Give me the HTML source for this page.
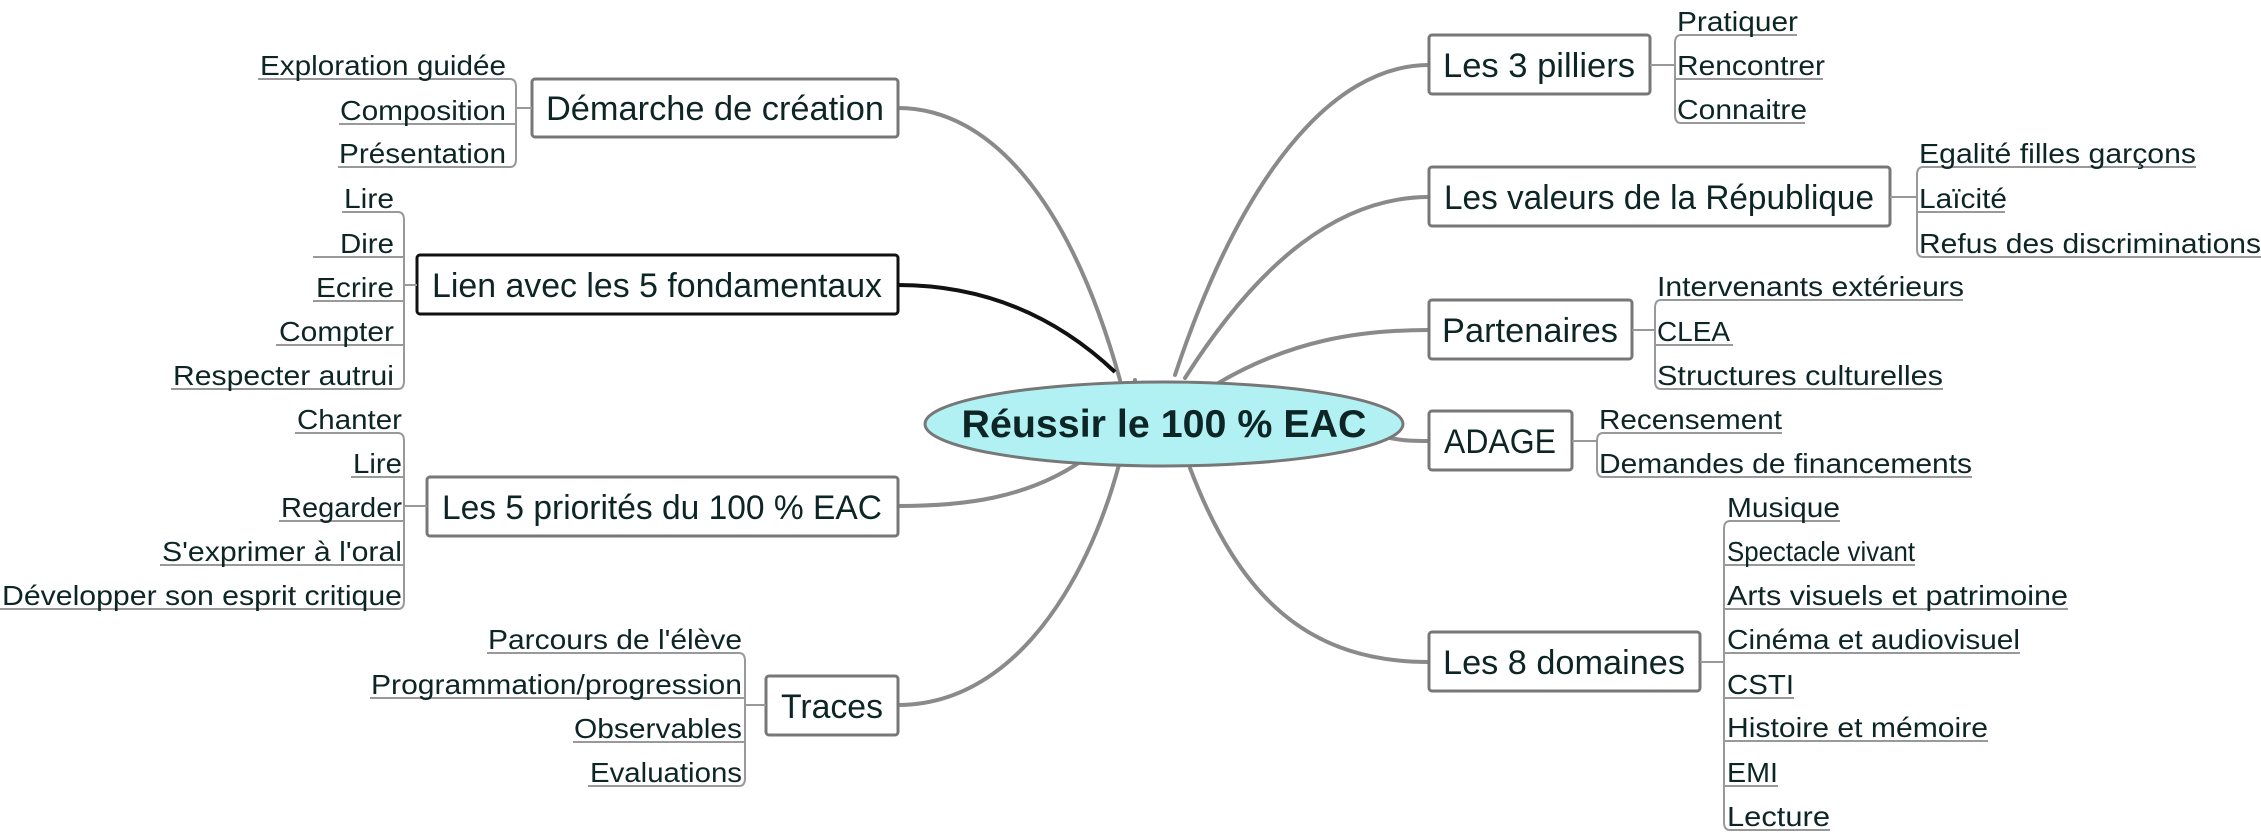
<!DOCTYPE html>
<html><head><meta charset="utf-8"><style>
html,body{margin:0;padding:0;background:#fff;}
svg{display:block}
text{font-family:"Liberation Sans",sans-serif;fill:#0d2525}
.b{font-size:34px}
.l{font-size:28px}
</style></head><body>
<svg width="2261" height="833" viewBox="0 0 2261 833" xmlns="http://www.w3.org/2000/svg">
<g fill="none" stroke="#8a8a8a" stroke-width="4" stroke-linecap="round">
<path d="M1120,380 C1070,200 990,108 898,108"/>
<path d="M1135,380 C1120,520 1040,705 898,705" />
<path d="M1090,455 C1030,500 960,506 898,506"/>
<path d="M1175,375 C1240,180 1330,65 1429,65"/>
<path d="M1185,378 C1260,260 1340,197 1429,197"/>
<path d="M1215,385 C1290,340 1360,330 1429,330"/>
<path d="M1390,438 C1405,441 1415,441 1429,441"/>
<path d="M1190,468 C1240,600 1310,662 1429,662"/>
</g>
<path d="M1115,372 C1060,320 990,285 898,285" fill="none" stroke="#111" stroke-width="4"/>
<ellipse cx="1164" cy="424" rx="239" ry="42" fill="#b1f1f4" stroke="#777" stroke-width="3"/>
<text x="1164" y="437" text-anchor="middle" font-size="39" font-weight="bold" textLength="405" lengthAdjust="spacingAndGlyphs">Réussir le 100 % EAC</text>
<g fill="#fff" stroke="#777" stroke-width="3">
<rect x="532" y="79" width="366" height="58" rx="3"/>
<rect x="417" y="255" width="481" height="59" rx="3" stroke="#111"/>
<rect x="427" y="477" width="471" height="59" rx="3"/>
<rect x="766" y="676" width="132" height="59" rx="3"/>
<rect x="1429" y="35" width="221" height="59" rx="3"/>
<rect x="1429" y="167" width="461" height="59" rx="3"/>
<rect x="1429" y="300" width="203" height="59" rx="3"/>
<rect x="1429" y="411" width="143" height="59" rx="3"/>
<rect x="1429" y="632" width="271" height="59" rx="3"/>
</g>
<g class="b">
<text x="715" y="120" text-anchor="middle" textLength="338" lengthAdjust="spacingAndGlyphs">Démarche de création</text>
<text x="657" y="297" text-anchor="middle" textLength="450" lengthAdjust="spacingAndGlyphs">Lien avec les 5 fondamentaux</text>
<text x="662" y="519" text-anchor="middle" textLength="440" lengthAdjust="spacingAndGlyphs">Les 5 priorités du 100 % EAC</text>
<text x="832" y="718" text-anchor="middle" textLength="102" lengthAdjust="spacingAndGlyphs">Traces</text>
<text x="1539" y="77" text-anchor="middle" textLength="192" lengthAdjust="spacingAndGlyphs">Les 3 pilliers</text>
<text x="1659" y="209" text-anchor="middle" textLength="430" lengthAdjust="spacingAndGlyphs">Les valeurs de la République</text>
<text x="1530" y="342" text-anchor="middle" textLength="176" lengthAdjust="spacingAndGlyphs">Partenaires</text>
<text x="1500" y="453" text-anchor="middle" textLength="112" lengthAdjust="spacingAndGlyphs">ADAGE</text>
<text x="1564" y="674" text-anchor="middle" textLength="242" lengthAdjust="spacingAndGlyphs">Les 8 domaines</text>
</g>
<g fill="none" stroke="#999" stroke-width="2">
<path d="M508,79 h2 q6,0 6,8 v72 q0,8 -6,8 h-2 M516,108 h16 M508,124 h8"/>
<path d="M396,212 h2 q6,0 6,8 v161 q0,8 -6,8 h-2 M404,285 h13 M396,257 h8 M396,301 h8 M396,345 h8"/>
<path d="M396,433 h2 q6,0 6,8 v160 q0,8 -6,8 h-2 M404,506 h23 M396,477 h8 M396,521 h8 M396,565 h8"/>
<path d="M737,653 h2 q6,0 6,8 v117 q0,8 -6,8 h-2 M745,705 h21 M737,698 h8 M737,742 h8"/>
<path d="M1683,35 h-2 q-6,0 -6,8 v72 q0,8 6,8 h2 M1675,65 h-25 M1683,79 h-8"/>
<path d="M1925,167 h-2 q-6,0 -6,8 v74 q0,8 6,8 h2 M1917,197 h-27 M1925,212 h-8"/>
<path d="M1663,300 h-2 q-6,0 -6,8 v73 q0,8 6,8 h2 M1655,330 h-23 M1663,345 h-8"/>
<path d="M1605,433 h-2 q-6,0 -6,8 v28 q0,8 6,8 h2 M1597,441 h-25"/>
<path d="M1732,521 h-2 q-6,0 -6,8 v293 q0,8 6,8 h2 M1724,662 h-24 M1732,565 h-8 M1732,609 h-8 M1732,653 h-8 M1732,698 h-8 M1732,741 h-8 M1732,786 h-8"/>
</g>
<g stroke="#999" stroke-width="2">
<line x1="258" y1="79" x2="508" y2="79"/><line x1="339" y1="124" x2="508" y2="124"/><line x1="338" y1="167" x2="508" y2="167"/>
<line x1="342" y1="212" x2="396" y2="212"/><line x1="313" y1="257" x2="396" y2="257"/><line x1="313" y1="301" x2="396" y2="301"/><line x1="276" y1="345" x2="396" y2="345"/><line x1="171" y1="389" x2="396" y2="389"/>
<line x1="295" y1="433" x2="396" y2="433"/><line x1="351" y1="477" x2="396" y2="477"/><line x1="279" y1="521" x2="396" y2="521"/><line x1="160" y1="565" x2="396" y2="565"/><line x1="0" y1="609" x2="396" y2="609"/>
<line x1="487" y1="653" x2="737" y2="653"/><line x1="370" y1="698" x2="737" y2="698"/><line x1="573" y1="742" x2="737" y2="742"/><line x1="588" y1="786" x2="737" y2="786"/>
<line x1="1683" y1="35" x2="1797" y2="35"/><line x1="1683" y1="79" x2="1823" y2="79"/><line x1="1683" y1="123" x2="1805" y2="123"/>
<line x1="1925" y1="167" x2="2196" y2="167"/><line x1="1925" y1="212" x2="2005" y2="212"/><line x1="1925" y1="257" x2="2261" y2="257"/>
<line x1="1663" y1="300" x2="1963" y2="300"/><line x1="1663" y1="345" x2="1733" y2="345"/><line x1="1663" y1="389" x2="1943" y2="389"/>
<line x1="1605" y1="433" x2="1782" y2="433"/><line x1="1605" y1="477" x2="1972" y2="477"/>
<line x1="1732" y1="521" x2="1840" y2="521"/><line x1="1732" y1="565" x2="1915" y2="565"/><line x1="1732" y1="609" x2="2068" y2="609"/><line x1="1732" y1="653" x2="2020" y2="653"/><line x1="1732" y1="698" x2="1794" y2="698"/><line x1="1732" y1="741" x2="1988" y2="741"/><line x1="1732" y1="786" x2="1778" y2="786"/><line x1="1732" y1="830" x2="1830" y2="830"/>
</g>
<g class="l" text-anchor="end">
<text x="506" y="75" textLength="246" lengthAdjust="spacingAndGlyphs">Exploration guidée</text>
<text x="506" y="120" textLength="166" lengthAdjust="spacingAndGlyphs">Composition</text>
<text x="506" y="163" textLength="167" lengthAdjust="spacingAndGlyphs">Présentation</text>
<text x="394" y="208" textLength="50" lengthAdjust="spacingAndGlyphs">Lire</text>
<text x="394" y="253" textLength="54" lengthAdjust="spacingAndGlyphs">Dire</text>
<text x="394" y="297" textLength="78" lengthAdjust="spacingAndGlyphs">Ecrire</text>
<text x="394" y="341" textLength="115" lengthAdjust="spacingAndGlyphs">Compter</text>
<text x="394" y="385" textLength="221" lengthAdjust="spacingAndGlyphs">Respecter autrui</text>
<text x="402" y="429" textLength="105" lengthAdjust="spacingAndGlyphs">Chanter</text>
<text x="402" y="473" textLength="49" lengthAdjust="spacingAndGlyphs">Lire</text>
<text x="402" y="517" textLength="121" lengthAdjust="spacingAndGlyphs">Regarder</text>
<text x="402" y="561" textLength="240" lengthAdjust="spacingAndGlyphs">S'exprimer à l'oral</text>
<text x="402" y="605" textLength="400" lengthAdjust="spacingAndGlyphs">Développer son esprit critique</text>
<text x="742" y="649" textLength="254" lengthAdjust="spacingAndGlyphs">Parcours de l'élève</text>
<text x="742" y="694" textLength="371" lengthAdjust="spacingAndGlyphs">Programmation/progression</text>
<text x="742" y="738" textLength="168" lengthAdjust="spacingAndGlyphs">Observables</text>
<text x="742" y="782" textLength="152" lengthAdjust="spacingAndGlyphs">Evaluations</text>
</g>
<g class="l">
<text x="1677" y="31" textLength="121" lengthAdjust="spacingAndGlyphs">Pratiquer</text>
<text x="1677" y="75" textLength="148" lengthAdjust="spacingAndGlyphs">Rencontrer</text>
<text x="1677" y="119" textLength="130" lengthAdjust="spacingAndGlyphs">Connaitre</text>
<text x="1919" y="163" textLength="277" lengthAdjust="spacingAndGlyphs">Egalité filles garçons</text>
<text x="1919" y="208" textLength="88" lengthAdjust="spacingAndGlyphs">Laïcité</text>
<text x="1919" y="253" textLength="342" lengthAdjust="spacingAndGlyphs">Refus des discriminations</text>
<text x="1657" y="296" textLength="307" lengthAdjust="spacingAndGlyphs">Intervenants extérieurs</text>
<text x="1657" y="341" textLength="73" lengthAdjust="spacingAndGlyphs">CLEA</text>
<text x="1657" y="385" textLength="286" lengthAdjust="spacingAndGlyphs">Structures culturelles</text>
<text x="1599" y="429" textLength="183" lengthAdjust="spacingAndGlyphs">Recensement</text>
<text x="1599" y="473" textLength="373" lengthAdjust="spacingAndGlyphs">Demandes de financements</text>
<text x="1727" y="517" textLength="113" lengthAdjust="spacingAndGlyphs">Musique</text>
<text x="1727" y="561" style="font-size:28px" textLength="188" lengthAdjust="spacingAndGlyphs">Spectacle vivant</text>
<text x="1727" y="605" textLength="341" lengthAdjust="spacingAndGlyphs">Arts visuels et patrimoine</text>
<text x="1727" y="649" textLength="293" lengthAdjust="spacingAndGlyphs">Cinéma et audiovisuel</text>
<text x="1727" y="694" textLength="67" lengthAdjust="spacingAndGlyphs">CSTI</text>
<text x="1727" y="737" textLength="261" lengthAdjust="spacingAndGlyphs">Histoire et mémoire</text>
<text x="1727" y="782" textLength="51" lengthAdjust="spacingAndGlyphs">EMI</text>
<text x="1727" y="826" textLength="103" lengthAdjust="spacingAndGlyphs">Lecture</text>
</g>
</svg>
</body></html>
